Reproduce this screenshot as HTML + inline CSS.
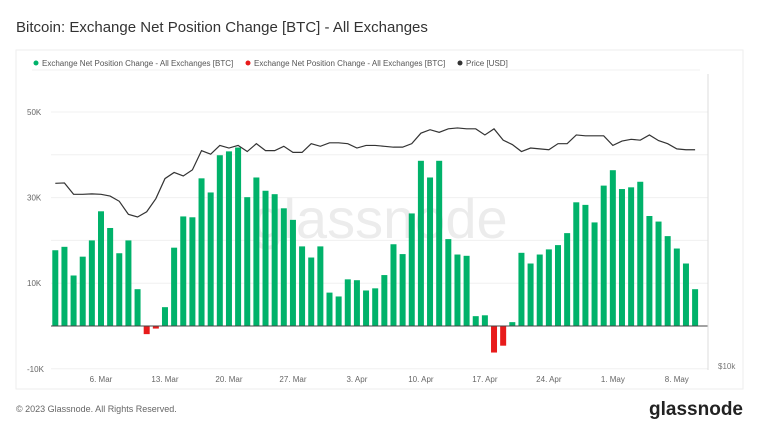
<!DOCTYPE html>
<html><head><meta charset="utf-8"><style>
body{margin:0;width:760px;height:428px;background:#fff;font-family:"Liberation Sans",sans-serif;overflow:hidden}
</style></head><body>
<svg width="760" height="428" xmlns="http://www.w3.org/2000/svg">
<text x="16" y="32" font-size="15" fill="#333">Bitcoin: Exchange Net Position Change [BTC] - All Exchanges</text>
<rect x="16" y="50" width="727" height="339" fill="none" stroke="#eee"/>
<g font-size="8" fill="#555">
<g><circle cx="36" cy="63" r="2.5" fill="#00b26a"/><text x="42" y="66">Exchange Net Position Change - All Exchanges [BTC]</text></g>
<g><circle cx="248" cy="63" r="2.5" fill="#e81b1b"/><text x="254" y="66">Exchange Net Position Change - All Exchanges [BTC]</text></g>
<g><circle cx="460" cy="63" r="2.5" fill="#333"/><text x="466" y="66">Price [USD]</text></g>
</g>
<line x1="32" y1="70" x2="700" y2="70" stroke="#f2f2f2"/>
<g id="grid"></g>
<text x="380" y="238" text-anchor="middle" font-size="56" fill="#ececec">glassnode</text>
<g id="bars"></g>
<g id="line"></g>
<g id="axes" font-size="8" fill="#666"></g>
<line x1="708" y1="74" x2="708" y2="370" stroke="#ddd"/>
<text x="718" y="369" font-size="8" fill="#777">$10k</text>
<text x="16" y="412" font-size="9" fill="#666">© 2023 Glassnode. All Rights Reserved.</text>
<text x="743" y="415" text-anchor="end" font-size="19" font-weight="bold" fill="#222">glassnode</text>
</svg>
<script>
const netChange=[17.7,18.5,11.8,16.2,20.0,26.8,22.9,17.0,20.0,8.6,-1.9,-0.6,4.4,18.3,25.6,25.4,34.5,31.2,39.9,40.8,41.7,30.1,34.7,31.6,30.8,27.5,24.8,18.6,16.0,18.6,7.8,6.9,10.9,10.7,8.3,8.8,11.9,19.1,16.8,26.3,38.6,34.7,38.6,20.3,16.7,16.4,2.3,2.5,-6.2,-4.6,0.9,17.1,14.6,16.7,17.9,18.9,21.7,28.9,28.3,24.2,32.8,36.4,32.0,32.4,33.7,25.7,24.4,21.0,18.1,14.6,8.6];
const price=[24.06,24.1,22.8,22.8,22.85,22.8,22.6,22.0,20.5,20.2,20.8,22.3,24.6,25.3,24.9,25.6,27.8,27.4,28.4,28.1,28.4,27.7,28.6,27.8,27.8,28.3,27.6,27.6,28.6,28.3,28.7,28.7,28.6,28.1,28.4,28.4,28.3,28.2,28.2,28.6,29.8,30.2,29.9,30.3,30.4,30.3,30.3,29.6,30.3,29.0,28.5,27.7,28.1,28.0,27.9,28.6,28.6,29.6,29.5,29.5,29.5,28.4,28.9,29.1,29.0,29.6,28.95,28.6,28.0,27.9,27.9];
const yTicks=[50,30,10,-10];
const yTickLabels=["50K","30K","10K","-10K"];
const xTickDays=[5,12,19,26,33,40,47,54,61,68];
const xTickLabels=["6. Mar","13. Mar","20. Mar","27. Mar","3. Apr","10. Apr","17. Apr","24. Apr","1. May","8. May"];
const NS="http://www.w3.org/2000/svg";
const xS=i=>55.3+i*9.14;
const yS=v=>326-v*4.28;
const pS=p=>217-(p-20.2)*8.73;
function mk(tag,attrs,parent,txt){const e=document.createElementNS(NS,tag);for(const k in attrs)e.setAttribute(k,attrs[k]);if(txt!==undefined)e.textContent=txt;parent.appendChild(e);return e;}
const grid=document.getElementById('grid');
for(let v=-10;v<=50;v+=10){
  const g=mk('line',{x1:51,x2:708,y1:yS(v),y2:yS(v),stroke:'#f0f0f0'},grid);
  
  
}
const bars=document.getElementById('bars');
netChange.forEach((v,i)=>{
  const y0=yS(0),y1=yS(v);
  const r=mk('rect',{x:xS(i)-3,y:Math.min(y0,y1),width:6,height:Math.max(0.5,Math.abs(y1-y0)),fill:v>=0?'#00b26a':'#e81b1b'},bars);
  
  
});
const zl=mk('line',{x1:51,x2:708,y1:yS(0),y2:yS(0),stroke:'#444','stroke-width':1},bars);


const pl=mk('polyline',{points:price.map((p,i)=>xS(i)+','+pS(p)).join(' '),fill:'none',stroke:'#333','stroke-width':1.2},document.getElementById('line'));


const ax=document.getElementById('axes');
yTicks.forEach((v,i)=>{
  const t=mk('text',{x:27,y:yS(v)+3},ax,yTickLabels[i]);
  
  
});
xTickDays.forEach((d,i)=>{
  const t=mk('text',{x:xS(d),y:382,'text-anchor':'middle'},ax,xTickLabels[i]);
  
  
});
</script>
</body></html>
